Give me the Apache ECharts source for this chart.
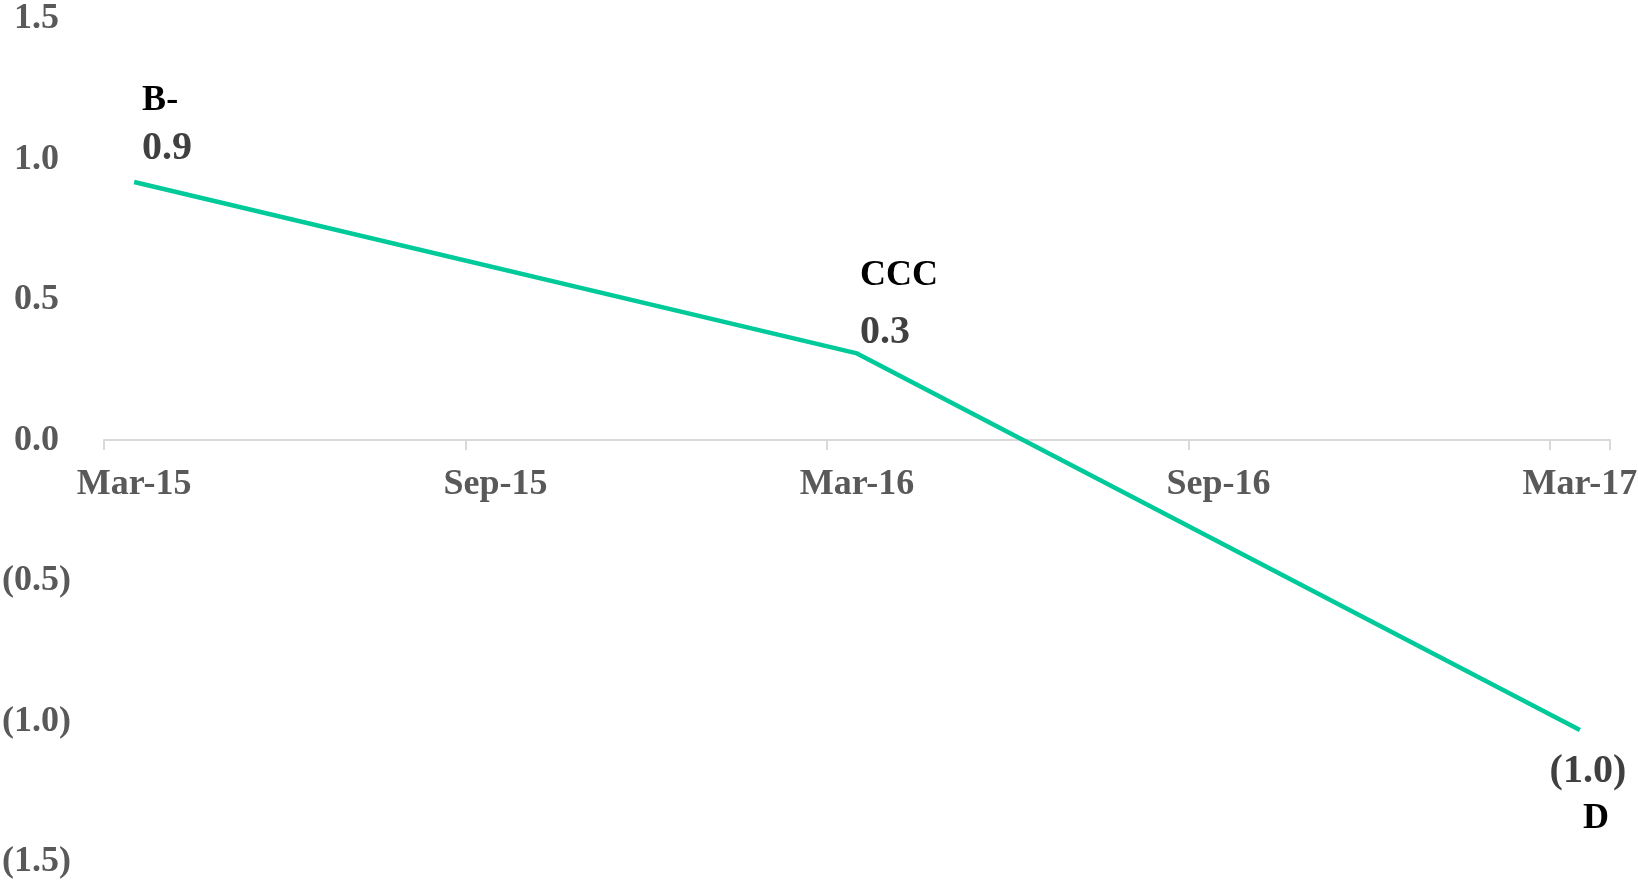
<!DOCTYPE html>
<html>
<head>
<meta charset="utf-8">
<script src="https://cdn.jsdelivr.net/npm/echarts@6/dist/echarts.min.js"></script>
<style>
    html, body { margin: 0; padding: 0; background: #fff; }
    #chart { width: 1638px; height: 881px; }
</style>
</head>
<body>
<div id="chart"></div>
<script>
// monthly categories (date axis, one slot per month)
const months = ['Mar-15', 'Apr-15', 'May-15', 'Jun-15', 'Jul-15', 'Aug-15', 'Sep-15', 'Oct-15', 'Nov-15', 'Dec-15', 'Jan-16', 'Feb-16',
    'Mar-16', 'Apr-16', 'May-16', 'Jun-16', 'Jul-16', 'Aug-16', 'Sep-16', 'Oct-16', 'Nov-16', 'Dec-16', 'Jan-17', 'Feb-17', 'Mar-17'];
// observed points
const pointMonths = ['Mar-15', 'Mar-16', 'Mar-17'];
const values = [0.92, 0.31, -1.03];
const ratings = ['B-', 'CCC', 'D'];

const FONT = "'Liberation Serif', 'Times New Roman', serif";

function fmt(v) {
    const s = Math.abs(v).toFixed(1);
    return v < 0 ? `(${s})` : s;
}

// label placement for each point
const labelCfg = [
    { position: 'top', align: 'left', distance: 13, offset: [8, 2], rLine: 52, vLine: 44, rPad: 0, below: false },
    { position: 'top', align: 'left', distance: 0, offset: [3, 2], rLine: 70, vLine: 44, rPad: 0, below: false },
    { position: 'bottom', align: 'center', distance: 19, offset: [8, 0], rLine: 50, vLine: 44, rPad: 16, below: true }
];

const seriesData = pointMonths.map((m, i) => {
    const c = labelCfg[i];
    return {
        value: [m, values[i]],
        label: {
            show: true,
            position: c.position,
            distance: c.distance,
            offset: c.offset,
            align: c.align,
            formatter: c.below ? `{v|${fmt(values[i])}}\n{r|${ratings[i]}}` : `{r|${ratings[i]}}\n{v|${fmt(values[i])}}`,
            rich: {
                r: { fontFamily: FONT, fontWeight: 'bold', fontSize: 36, color: '#000', lineHeight: c.rLine, align: c.align, padding: [0, 0, 0, c.rPad] },
                v: { fontFamily: FONT, fontWeight: 'bold', fontSize: 40, color: '#404040', lineHeight: c.vLine, align: c.align }
            }
        }
    };
});

document.addEventListener('DOMContentLoaded', () => {
    const chart = echarts.init(document.getElementById('chart'));
    const option = {
        animation: false,
        grid: { left: 104, right: 28, top: 19, bottom: 19, containLabel: false, outerBoundsMode: 'none' },
        xAxis: {
            type: 'category',
            data: months,
            boundaryGap: true,
            // move the whole axis (line, ticks, labels) up to the zero line
            offset: -422,
            axisLine: { onZero: false, lineStyle: { color: '#d9d9d9', width: 2 } },
            axisTick: { show: true, interval: 5, length: 10, lineStyle: { color: '#d9d9d9', width: 2 } },
            axisLabel: {
                interval: 5,
                margin: 27,
                fontFamily: FONT,
                fontWeight: 'bold',
                fontSize: 36,
                color: '#595959'
            },
            splitLine: { show: false }
        },
        yAxis: {
            type: 'value',
            min: -1.5,
            max: 1.5,
            interval: 0.5,
            axisLine: { show: false },
            axisTick: { show: false },
            splitLine: { show: false },
            axisLabel: {
                margin: 33,
                formatter: (v) => v < 0 ? `{a|${fmt(v)}}` : `{a|${fmt(v)}}{p|)}`,
                rich: {
                    a: { fontFamily: FONT, fontWeight: 'bold', fontSize: 36, color: '#595959' },
                    p: { fontFamily: FONT, fontWeight: 'bold', fontSize: 36, color: 'rgba(0,0,0,0)' }
                }
            }
        },
        series: [{
            type: 'line',
            data: seriesData,
            symbol: 'circle',
            symbolSize: 1,
            showSymbol: true,
            lineStyle: { color: '#00C99A', width: 4.5 },
            itemStyle: { color: 'rgba(0,0,0,0)' }
        }]
    };
    chart.setOption(option);
    window.addEventListener('resize', () => { chart.resize(); });
});
</script>
</body>
</html>
